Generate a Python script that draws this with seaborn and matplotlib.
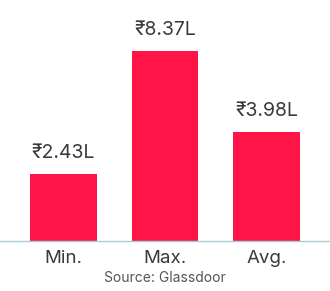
import matplotlib
matplotlib.use("Agg")
import matplotlib.pyplot as plt
import seaborn as sns
import pandas as pd

categories = ["Min.", "Max.", "Avg."]
values = [2.43, 8.37, 3.98]
value_labels = ["₹2.43L", "₹8.37L", "₹3.98L"]
source_text = "Source: Glassdoor"

sns.set_style("white")
plt.rcParams['font.family'] = ['Inter', 'Noto Sans', 'DejaVu Sans']

W, H = 330, 291
fig = plt.figure(figsize=(W / 100, H / 100), dpi=100)
base_px = 241
top_px = 51
ax = fig.add_axes([0, (H - base_px) / H, 1, (base_px - top_px) / H])

df = pd.DataFrame({"cat": categories, "val": values})
sns.barplot(data=df, x="cat", y="val", color="#FF1447", saturation=1,
            width=0.66, ax=ax, edgecolor="none")

ymax = (base_px - top_px) / 27.5
ax.set_ylim(0, ymax)
ax.set_xlim(-0.626, 2.626)

for i, (v, lab) in enumerate(zip(values, value_labels)):
    ax.annotate(lab, xy=(i, min(v, ymax)), xytext=(0, 11.5), textcoords="offset points",
                ha="center", va="baseline", fontsize=14, color="#3a3a3a",
                annotation_clip=False)

ax.set_xlabel("")
ax.set_ylabel("")
ax.set_yticks([])
ax.tick_params(axis="x", length=0, pad=6.5, labelsize=13.5, labelcolor="#3a3a3a")
for s in ["top", "left", "right"]:
    ax.spines[s].set_visible(False)
ax.spines["bottom"].set_color("#A8CCDA")
ax.spines["bottom"].set_linewidth(1)

fig.text(0.5, 1 - 278 / H, source_text, ha="center", va="center",
         fontsize=10, color="#555555")

fig.savefig("out.png", dpi=100)
